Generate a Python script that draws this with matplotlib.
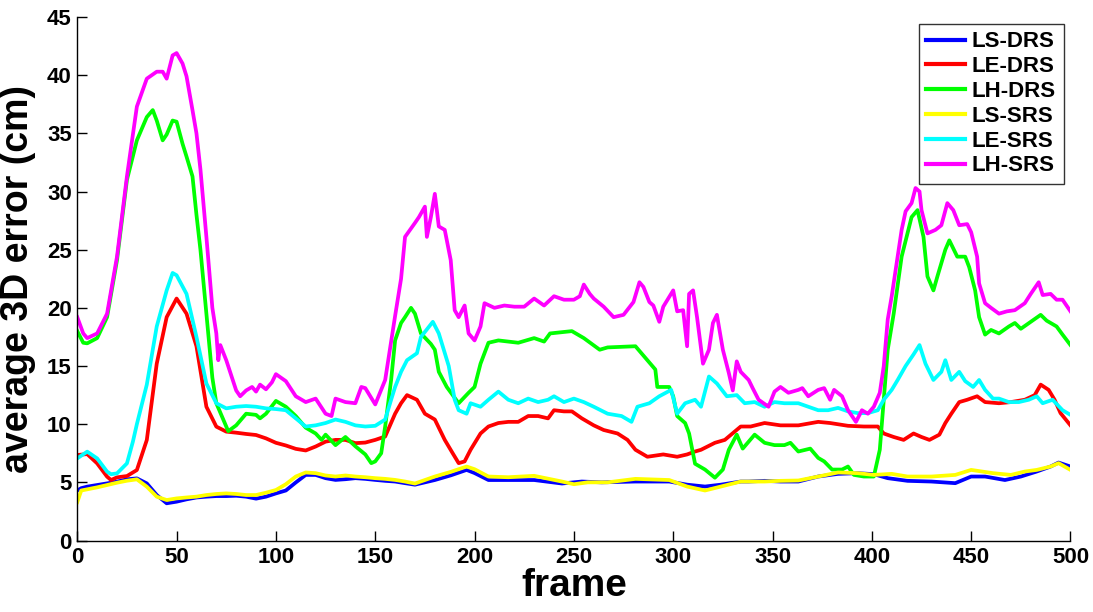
import matplotlib
matplotlib.use("Agg")
import matplotlib.pyplot as plt

# (frame, error) points
ls_drs = [(0, 4.3), (2, 4.5), (5, 4.63), (10, 4.77), (15, 4.91), (20, 5.06), (25, 5.26), (30, 5.34),
          (35, 4.91), (40, 3.91), (45, 3.2), (50, 3.34), (55, 3.54), (60, 3.7), (65, 3.77), (70, 3.82),
          (75, 3.82), (80, 3.85), (85, 3.77), (90, 3.6), (95, 3.77), (100, 4.05), (105, 4.3), (110, 4.99),
          (115, 5.64), (120, 5.64), (125, 5.36), (130, 5.21), (135, 5.27), (140, 5.36), (145, 5.3),
          (150, 5.21), (155, 5.13), (160, 5.07), (165, 4.93), (170, 4.8), (180, 5.2), (188, 5.6),
          (196, 6.07), (200, 5.8), (207, 5.2), (217, 5.2), (230, 5.2), (244, 4.9), (254, 5.07),
          (264, 5.0), (281, 5.07), (298, 5.07), (307, 4.8), (316, 4.64), (324, 4.8), (334, 5.07),
          (338, 5.07), (346, 5.13), (354, 5.07), (363, 5.07), (373, 5.5), (383, 5.73), (393, 5.79),
          (401, 5.7), (408, 5.36), (418, 5.13), (430, 5.07), (442, 4.93), (450, 5.5), (457, 5.5),
          (467, 5.2), (475, 5.5), (483, 5.93), (490, 6.36), (494, 6.7), (500, 6.36)]

le_drs = [(0, 7.35), (5, 7.43), (10, 6.63), (15, 5.49), (17, 5.2), (20, 5.43), (25, 5.54), (30, 6.06),
          (35, 8.64), (40, 15.2), (45, 19.2), (50, 20.8), (55, 19.5), (60, 16.7), (65, 11.5), (70, 9.79),
          (75, 9.36), (80, 9.27), (85, 9.16), (90, 9.07), (95, 8.78), (100, 8.4), (105, 8.17), (110, 7.88),
          (115, 7.74), (120, 8.08), (125, 8.5), (130, 8.65), (135, 8.65), (140, 8.37), (145, 8.42),
          (150, 8.65), (155, 8.94), (160, 10.9), (163, 11.8), (166, 12.5), (171, 12.1), (175, 10.9),
          (180, 10.4), (185, 8.65), (189, 7.5), (192, 6.65), (195, 6.8), (198, 7.8), (203, 9.2),
          (207, 9.8), (212, 10.1), (217, 10.2), (222, 10.2), (227, 10.7), (232, 10.7), (237, 10.5),
          (240, 11.2), (245, 11.1), (249, 11.1), (254, 10.5), (260, 9.9), (265, 9.5), (272, 9.2),
          (277, 8.65), (281, 7.8), (287, 7.2), (295, 7.4), (302, 7.2), (307, 7.4), (311, 7.65),
          (314, 7.8), (321, 8.4), (326, 8.65), (334, 9.8), (339, 9.8), (346, 10.1), (354, 9.9),
          (363, 9.9), (373, 10.2), (379, 10.1), (388, 9.86), (396, 9.8), (403, 9.8), (406, 9.2),
          (411, 8.9), (416, 8.65), (421, 9.2), (425, 8.9), (429, 8.65), (434, 9.1), (437, 10.1),
          (440, 10.9), (444, 11.9), (448, 12.1), (453, 12.4), (457, 11.9), (464, 11.8), (470, 11.9),
          (477, 12.1), (482, 12.5), (485, 13.4), (489, 12.95), (492, 12.1), (495, 10.95), (500, 9.9)]

lh_drs = [(0, 18.0), (3, 17.0), (5, 16.95), (10, 17.4), (15, 19.2), (20, 24.1), (25, 31.0), (30, 34.4),
          (35, 36.4), (38, 37.0), (40, 36.1), (43, 34.4), (45, 34.9), (48, 36.1), (50, 36.0), (53, 34.1),
          (55, 33.0), (58, 31.3), (60, 28.0), (62, 25.0), (65, 19.5), (68, 14.0), (70, 11.8), (73, 10.6),
          (76, 9.4), (80, 9.9), (85, 10.9), (90, 10.8), (92, 10.5), (95, 10.9), (100, 12.0), (105, 11.5),
          (110, 10.7), (115, 9.7), (120, 9.2), (123, 8.65), (125, 9.1), (130, 8.2), (135, 8.9), (140, 8.1),
          (145, 7.4), (148, 6.65), (150, 6.8), (153, 7.5), (155, 9.8), (158, 13.8), (160, 17.2),
          (163, 18.7), (165, 19.2), (168, 20.0), (170, 19.5), (173, 17.8), (178, 16.9), (180, 16.4),
          (182, 14.5), (186, 13.2), (192, 11.8), (197, 12.7), (200, 13.2), (203, 15.2), (207, 17.0),
          (212, 17.2), (222, 17.0), (230, 17.4), (235, 17.1), (238, 17.8), (249, 18.0), (255, 17.4),
          (263, 16.4), (267, 16.6), (281, 16.7), (284, 16.1), (291, 14.7), (292, 13.2), (298, 13.2),
          (300, 12.4), (302, 10.7), (306, 10.1), (308, 9.2), (311, 6.6), (316, 6.1), (321, 5.4),
          (325, 6.1), (328, 7.8), (332, 9.1), (335, 7.9), (341, 9.1), (346, 8.4), (351, 8.2), (356, 8.2),
          (359, 8.4), (363, 7.65), (369, 7.9), (373, 7.1), (376, 6.8), (380, 6.1), (385, 6.1),
          (388, 6.36), (391, 5.64), (396, 5.5), (401, 5.5), (404, 7.8), (406, 12.1), (408, 16.4),
          (411, 19.5), (415, 24.4), (420, 27.8), (423, 28.4), (426, 26.1), (428, 22.7), (431, 21.5),
          (433, 22.7), (437, 25.0), (439, 25.8), (443, 24.4), (447, 24.4), (449, 23.5), (452, 21.5),
          (454, 19.2), (457, 17.7), (460, 18.1), (464, 17.8), (469, 18.4), (472, 18.7), (475, 18.2),
          (480, 18.8), (485, 19.4), (488, 18.9), (493, 18.4), (496, 17.7), (500, 16.8)]

ls_srs = [(0, 3.3), (2, 4.3), (5, 4.4), (10, 4.57), (15, 4.77), (20, 4.97), (25, 5.14), (30, 5.26),
          (35, 4.63), (40, 3.77), (45, 3.48), (50, 3.62), (55, 3.7), (60, 3.77), (65, 3.91), (70, 4.0),
          (75, 4.05), (80, 4.0), (85, 3.91), (90, 3.91), (95, 4.11), (100, 4.34), (105, 4.84), (110, 5.5),
          (115, 5.85), (120, 5.79), (125, 5.59), (130, 5.5), (135, 5.59), (140, 5.5), (145, 5.44),
          (150, 5.36), (155, 5.3), (160, 5.21), (165, 5.07), (170, 4.9), (180, 5.5), (188, 5.9),
          (196, 6.36), (200, 6.13), (207, 5.5), (217, 5.44), (230, 5.56), (244, 5.07), (250, 4.84),
          (257, 5.0), (267, 5.0), (281, 5.3), (298, 5.2), (307, 4.64), (316, 4.3), (324, 4.64),
          (334, 5.07), (338, 5.07), (346, 5.07), (354, 5.13), (363, 5.16), (373, 5.5), (383, 5.85),
          (393, 5.79), (401, 5.64), (410, 5.73), (418, 5.5), (430, 5.5), (442, 5.64), (450, 6.07),
          (461, 5.79), (470, 5.64), (477, 5.93), (483, 6.07), (490, 6.36), (494, 6.65), (500, 6.07)]

le_srs = [(0, 7.06), (5, 7.64), (10, 7.06), (15, 5.92), (17, 5.7), (20, 5.77), (25, 6.63), (28, 8.5),
          (30, 10.0), (35, 13.4), (40, 18.4), (45, 21.5), (48, 23.0), (50, 22.8), (55, 21.2), (60, 17.5),
          (65, 13.5), (70, 11.8), (75, 11.36), (80, 11.5), (85, 11.56), (90, 11.5), (95, 11.36),
          (100, 11.3), (105, 11.2), (110, 10.5), (115, 9.8), (120, 9.9), (125, 10.1), (130, 10.4),
          (135, 10.2), (140, 9.9), (145, 9.8), (150, 9.86), (155, 10.4), (158, 12.1), (160, 13.2),
          (163, 14.5), (166, 15.5), (171, 16.1), (173, 17.5), (179, 18.8), (182, 17.8), (187, 15.0),
          (190, 12.1), (192, 11.2), (196, 10.9), (198, 11.8), (203, 11.5), (207, 12.1), (212, 12.8),
          (217, 12.1), (222, 11.8), (227, 12.2), (232, 11.9), (237, 12.1), (240, 12.4), (245, 11.9),
          (250, 12.2), (255, 11.9), (260, 11.5), (267, 10.9), (274, 10.7), (279, 10.2), (282, 11.5),
          (288, 11.8), (293, 12.4), (299, 12.95), (302, 10.9), (306, 11.8), (311, 12.1), (314, 11.5),
          (318, 14.1), (322, 13.5), (327, 12.4), (332, 12.5), (336, 11.8), (341, 11.9), (346, 11.5),
          (351, 11.9), (356, 11.8), (363, 11.8), (368, 11.5), (373, 11.2), (378, 11.2), (383, 11.4),
          (388, 11.1), (393, 10.95), (398, 10.95), (403, 11.2), (406, 12.1), (410, 12.95), (413, 13.8),
          (417, 15.0), (421, 16.0), (424, 16.8), (427, 15.2), (431, 13.8), (435, 14.5), (437, 15.5),
          (440, 13.8), (444, 14.5), (447, 13.7), (451, 13.2), (454, 13.8), (457, 12.95), (461, 12.2),
          (464, 12.2), (469, 11.9), (474, 11.9), (479, 12.1), (483, 12.4), (486, 11.8), (491, 12.1),
          (496, 11.2), (500, 10.8)]

lh_srs = [(0, 19.2), (3, 17.8), (5, 17.4), (10, 17.8), (15, 19.5), (20, 24.4), (25, 31.3), (30, 37.3),
          (35, 39.7), (40, 40.3), (43, 40.3), (45, 39.7), (48, 41.7), (50, 41.9), (53, 41.0), (55, 39.9),
          (58, 37.0), (60, 35.0), (62, 31.9), (65, 26.1), (68, 20.0), (70, 17.8), (71, 15.5), (72, 16.8),
          (75, 15.5), (80, 12.9), (82, 12.4), (85, 12.9), (88, 13.2), (90, 12.8), (92, 13.4), (95, 13.0),
          (98, 13.6), (100, 14.3), (105, 13.7), (110, 12.4), (115, 11.9), (120, 12.2), (125, 10.9),
          (128, 10.7), (130, 12.2), (135, 11.9), (140, 11.8), (143, 13.2), (145, 13.1), (150, 11.7),
          (155, 13.8), (160, 19.3), (163, 22.5), (165, 26.1), (170, 27.3), (172, 27.8), (175, 28.7),
          (176, 26.1), (178, 27.8), (180, 29.8), (182, 27.0), (185, 26.7), (188, 24.1), (190, 19.8),
          (192, 19.2), (195, 20.2), (197, 17.8), (200, 17.2), (203, 18.4), (205, 20.4), (210, 20.0),
          (215, 20.2), (220, 20.1), (225, 20.1), (230, 20.8), (235, 20.2), (240, 21.0), (245, 20.7),
          (250, 20.7), (253, 21.0), (255, 22.0), (258, 21.2), (260, 20.8), (265, 20.1), (270, 19.2),
          (275, 19.4), (280, 20.5), (283, 22.2), (285, 21.8), (288, 20.5), (290, 20.2), (293, 18.8),
          (295, 20.1), (300, 21.5), (302, 19.7), (305, 19.8), (307, 16.7), (308, 21.2), (310, 21.5),
          (312, 19.2), (315, 15.2), (318, 16.4), (320, 18.7), (322, 19.4), (325, 16.4), (328, 14.4),
          (330, 12.9), (332, 15.4), (334, 14.5), (338, 13.8), (340, 13.1), (343, 12.1), (348, 11.5),
          (351, 12.8), (354, 13.2), (358, 12.7), (363, 12.95), (365, 13.1), (368, 12.4), (373, 12.95),
          (376, 13.1), (379, 12.1), (381, 12.95), (385, 12.4), (388, 11.2), (392, 10.2), (395, 11.2),
          (398, 10.9), (401, 11.5), (404, 12.7), (406, 15.0), (408, 19.0), (410, 21.0), (412, 23.3),
          (415, 26.7), (417, 28.3), (420, 29.0), (422, 30.3), (424, 30.0), (425, 28.4), (428, 26.4),
          (432, 26.7), (435, 27.1), (438, 29.0), (441, 28.4), (444, 27.1), (448, 27.2), (450, 26.5),
          (453, 24.4), (454, 22.1), (457, 20.4), (460, 20.0), (464, 19.5), (468, 19.7), (472, 19.8),
          (477, 20.4), (480, 21.2), (484, 22.2), (486, 21.1), (490, 21.2), (493, 20.7), (496, 20.7),
          (500, 19.7)]

labels = ["LS-DRS", "LE-DRS", "LH-DRS", "LS-SRS", "LE-SRS", "LH-SRS"]
colors = ["#0000ff", "#ff0000", "#00ff00", "#ffff00", "#00ffff", "#ff00ff"]
series = [ls_drs, le_drs, lh_drs, ls_srs, le_srs, lh_srs]


def main():
    plt.rcParams["font.family"] = ["Liberation Sans", "DejaVu Sans"]
    plt.rcParams["font.weight"] = "bold"

    fig = plt.figure(figsize=(10.93, 6.12), dpi=100)
    ax = fig.add_axes([0.0707, 0.1168, 0.9087, 0.8554])

    for pts, lab, col in zip(series, labels, colors):
        x, y = zip(*pts)
        ax.plot(x, y, color=col, linewidth=2.7, label=lab)

    ax.set_xlim(0, 500)
    ax.set_ylim(0, 45)
    ax.set_xticks(range(0, 501, 50))
    ax.set_yticks(range(0, 46, 5))

    # matlab style: box off, ticks inside
    ax.spines["top"].set_visible(False)
    ax.spines["right"].set_visible(False)
    ax.spines["left"].set_linewidth(1.0)
    ax.spines["bottom"].set_linewidth(1.0)
    ax.tick_params(axis="both", direction="in", length=7, width=1.0, labelsize=16)
    ax.tick_params(axis="x", pad=5)
    ax.tick_params(axis="y", pad=4)

    ax.set_xlabel("frame", fontsize=28, fontweight="bold", labelpad=0)
    ax.set_ylabel("average 3D error (cm)", fontsize=27, fontweight="bold", labelpad=8)

    leg = ax.legend(loc="upper right", fontsize=16, frameon=True, fancybox=False,
                    edgecolor="black", handlelength=1.75, handletextpad=0.3,
                    labelspacing=0.17, borderpad=0.35, borderaxespad=0.3)
    leg.get_frame().set_linewidth(1.0)
    for line in leg.get_lines():
        line.set_linewidth(3)

    fig.savefig("out.png", dpi=100)
    print("save : out.png")


if __name__ == "__main__":
    main()
